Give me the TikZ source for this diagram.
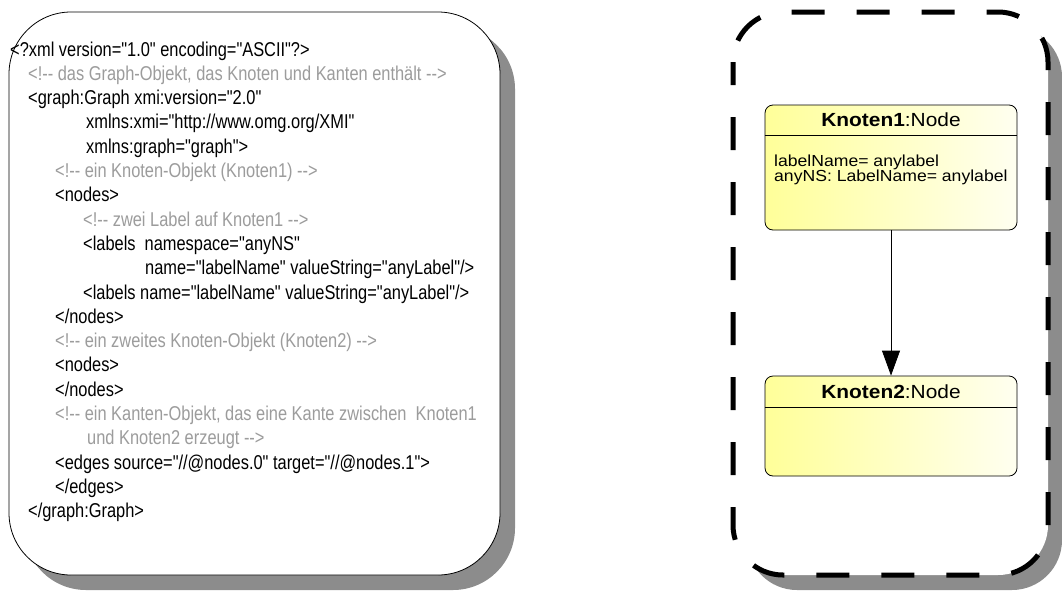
\documentclass[tikz,border=0pt]{standalone}
\usepackage{fontspec}
\setmainfont{Liberation Sans}
\newfontfamily\codefont[FakeStretch=0.82]{Liberation Sans}
\newfontfamily\umlfont[FakeStretch=1.1]{Liberation Sans}
\usetikzlibrary{arrows.meta}

\definecolor{cmtgray}{HTML}{9C9C9C}
\definecolor{shadowgray}{HTML}{8C8C8C}
\definecolor{nodeyellow}{HTML}{FFFF99}
\definecolor{nodelight}{HTML}{FFFFF0}

\tikzset{
  xmlline/.style={anchor=base west, inner sep=0pt, font=\codefont\fontsize{20}{22}\selectfont},
  xmlcmt/.style={xmlline, text=cmtgray},
  umlbox/.style={draw, line width=0.8pt, rounded corners=8pt, left color=nodeyellow, right color=nodelight, minimum width=252pt},
  umltitle/.style={inner sep=0pt, font=\umlfont\fontsize{19}{22}\selectfont},
  umlattr/.style={anchor=north west, inner sep=0pt, align=left, font=\umlfont\fontsize{16}{15}\selectfont},
}

\begin{document}
\begin{tikzpicture}[x=1pt, y=-1pt]
\useasboundingbox (0,0) rectangle (1062,592);

% xml side
\fill[shadowgray, rounded corners=62pt] (24,27) rectangle (515,590);
\draw[fill=white, line width=0.8pt, rounded corners=62pt] (9,12) rectangle (500,575);

\node[xmlline] (l1) at (10,56) {<?xml version="1.0" encoding="ASCII"?>};
\node[xmlcmt] (l2) at (28,80.3) {<!-{}- das Graph-Objekt, das Knoten und Kanten enthält -{}->};
\node[xmlline] (l3) at (28,104.6) {<graph:Graph xmi:version="2.0"};
\node[xmlline] (l4) at (86,128.9) {xmlns:xmi="http://www.omg.org/XMI"};
\node[xmlline] (l5) at (86,153.2) {xmlns:graph="graph">};
\node[xmlcmt] (l6) at (55,177.5) {<!-{}- ein Knoten-Objekt (Knoten1) -{}->};
\node[xmlline] (l7) at (55,201.8) {<nodes>};
\node[xmlcmt] (l8) at (83,226.1) {<!-{}- zwei Label auf Knoten1 -{}->};
\node[xmlline] (l9) at (83,250.4) {<labels\ \ namespace="anyNS"};
\node[xmlline] (l10) at (145,274.7) {name="labelName" valueString="anyLabel"/>};
\node[xmlline] (l11) at (83,299) {<labels name="labelName" valueString="anyLabel"/>};
\node[xmlline] (l12) at (55,323.3) {</nodes>};
\node[xmlcmt] (l13) at (55,347.6) {<!-{}- ein zweites Knoten-Objekt (Knoten2) -{}->};
\node[xmlline] (l14) at (55,371.9) {<nodes>};
\node[xmlline] (l15) at (55,396.2) {</nodes>};
\node[xmlcmt] (l16) at (55,420.5) {<!-{}- ein Kanten-Objekt, das eine Kante zwischen\ \ Knoten1};
\node[xmlcmt] (l17) at (87,444.8) {und Knoten2 erzeugt -{}->};
\node[xmlline] (l18) at (55,469.1) {<edges source="//@nodes.0" target="//@nodes.1">};
\node[xmlline] (l19) at (55,493.4) {</edges>};
\node[xmlline] (l20) at (28,517.7) {</graph:Graph>};

% graph side
\fill[shadowgray, rounded corners=50pt] (747,27) rectangle (1062,590);
\fill[white, rounded corners=50pt] (733,12) rectangle (1048,575);
\draw[line width=5pt, dash pattern=on 33pt off 32pt, dash phase=10pt, rounded corners=50pt] (733,12) rectangle (1048,575);

\node[umlbox, minimum height=125pt] (k1) at (891,167.5) {};
\draw[line width=0.8pt] ([yshift=-31pt]k1.north west) -- ([yshift=-31pt]k1.north east);
\node[umltitle] (k1title) at (891,120) {\textbf{Knoten1}:Node};
\node[umlattr] (k1attr) at (774,155) {labelName= anylabel\\anyNS: LabelName= anylabel};

\node[umlbox, minimum height=100pt] (k2) at (891,426) {};
\draw[line width=0.8pt] ([yshift=-32pt]k2.north west) -- ([yshift=-32pt]k2.north east);
\node[umltitle] (k2title) at (891,392) {\textbf{Knoten2}:Node};

\draw[line width=0.8pt, -{Triangle[width=18pt,length=25pt]}] (k1.south) -- (k2.north);

\end{tikzpicture}
\end{document}
